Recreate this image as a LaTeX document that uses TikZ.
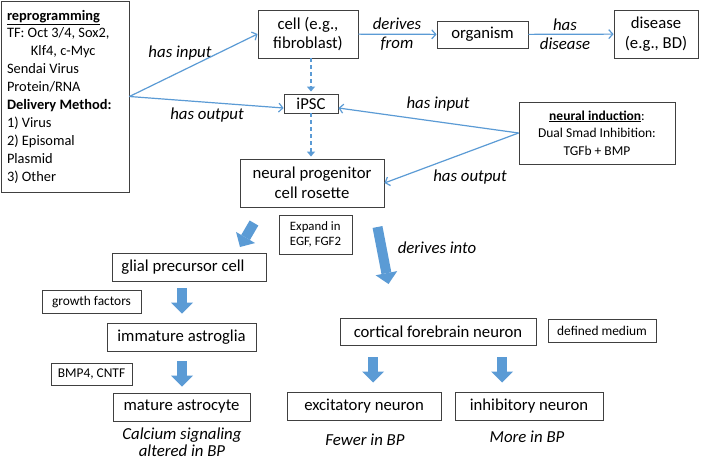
\documentclass[tikz,border=0pt]{standalone}
\usepackage{fontspec}
\setmainfont{Carlito}
\usetikzlibrary{arrows.meta,calc}
\definecolor{ablue}{HTML}{5B9BD5}
\definecolor{bline}{HTML}{404040}
\begin{document}
\begin{tikzpicture}[x=1pt,y=-1pt,
 box/.style={draw=bline,line width=0.9pt,inner sep=0pt,align=center,font=\fontsize{16.7}{19.5}\selectfont},
 smallbox/.style={draw=bline,line width=0.8pt,inner sep=0pt,align=center,font=\fontsize{13.4}{15.5}\selectfont},
 lbl/.style={font=\fontsize{16.8}{18.5}\selectfont\itshape,align=center,inner sep=0pt},
 thinarrow/.style={draw=ablue,line width=1.2pt,-{Straight Barb[length=4pt,width=9pt]}},
 dasharrow/.style={draw=ablue,line width=1.4pt,dash pattern=on 4pt off 3pt,-{Triangle[length=5pt,width=8pt]}},
 blockarrow/.style={draw=ablue,line width=10pt,-{Triangle[length=11pt,width=22pt,line width=0pt]}}
]
\useasboundingbox[fill=white] (0,0) rectangle (709,460);

% boxes
\node[box,minimum width=128,minimum height=191,text width=116,align=flush left,
  font=\fontsize{14.4}{17.9}\selectfont] (reprog) at (65,96.5)
 {\underline{\textbf{reprogramming}}\\
  TF: Oct 3/4, Sox2,\\
  \hspace*{24pt}Klf4, c-Myc\\
  Sendai Virus\\
  Protein/RNA\\
  \textbf{Delivery Method:}\\
  1) Virus\\
  2) Episomal\\
  Plasmid\\
  3) Other};
\node[box,minimum width=100,minimum height=48] (cell) at (308,34) {cell (e.g.,\\fibroblast)};
\node[box,minimum width=91,minimum height=27] (org) at (482.5,34.5) {organism};
\node[box,minimum width=84,minimum height=48] (dis) at (656,34) {disease\\(e.g., BD)};
\node[box,minimum width=54,minimum height=19] (ipsc) at (311,103.5) {iPSC};
\node[box,minimum width=144,minimum height=48] (npc) at (312,183) {neural progenitor\\cell rosette};
\node[smallbox,minimum width=73,minimum height=39,align=flush left,font=\fontsize{12.8}{15.5}\selectfont] (expand) at (315.5,234.5) {Expand in\\EGF, FGF2};
\node[box,minimum width=156,minimum height=62,font=\fontsize{13.5}{17.5}\selectfont] (ni) at (597,133)
 {\underline{\textbf{neural induction}}:\\Dual Smad Inhibition:\\TGFb + BMP};
\node[box,minimum width=154,minimum height=28] (glial) at (189,267) {glial precursor cell\hspace*{12pt}};
\node[smallbox,minimum width=99,minimum height=23] (growth) at (91.5,301.5) {growth factors};
\node[box,minimum width=149,minimum height=28] (imm) at (181.5,337) {immature astroglia};
\node[smallbox,minimum width=81,minimum height=22] (bmp) at (91.5,374) {BMP4, CNTF};
\node[box,minimum width=137,minimum height=28] (mat) at (181.5,407) {mature astrocyte};
\node[box,minimum width=196,minimum height=27] (cort) at (438,331.5) {cortical forebrain neuron};
\node[smallbox,minimum width=108,minimum height=23] (defm) at (602,330.5) {defined medium};
\node[box,minimum width=154,minimum height=28] (exc) at (364,406) {excitatory neuron};
\node[box,minimum width=148,minimum height=28] (inh) at (529,406) {inhibitory neuron};

% labels
\node[lbl] (l1) at (180,53) {has input};
\node[lbl] (l2) at (207,115) {has output};
\node[lbl] (l3) at (397,34) {derives\\from};
\node[lbl] (l4) at (565,34) {has\\disease};
\node[lbl] (l5) at (438,104) {has input};
\node[lbl] (l6) at (470,177) {has output};
\node[lbl] (l7) at (437,248) {derives into};
\node[lbl,font=\fontsize{16.8}{17}\selectfont\itshape] (l8) at (182,442.5) {Calcium signaling\\altered in BP};
\node[lbl] (l9) at (365,440) {Fewer in BP};
\node[lbl] (l10) at (527,437) {More in BP};

% thin connectors
\coordinate (ipscL) at ($(ipsc.west)+(0,4.5)$);
\coordinate (ipscR) at ($(ipsc.east)+(0,4.5)$);
\draw[thinarrow] (reprog.east) -- (cell.west);
\draw[thinarrow] (reprog.east) -- (ipscL);
\draw[thinarrow] (cell) -- (org);
\draw[thinarrow] (org) -- (dis);
\draw[thinarrow] (ni.west) -- (ipscR);
\draw[thinarrow] (ni.west) -- (npc.east);
\draw[dasharrow] (cell.south -| ipsc.north) -- ($(ipsc.north)+(0,-2)$);
\draw[dasharrow] (ipsc.south) -- ($(npc.north -| ipsc.south)+(0,-2)$);

% block arrows
\coordinate (b1s) at (254,223); \coordinate (b1e) at (240,247);
\coordinate (b2s) at (377.5,227); \coordinate (b2e) at (388.5,284);
\coordinate (b3s) at (182,288); \coordinate (b3e) at (182,313.5);
\coordinate (b4s) at (182,361); \coordinate (b4e) at (182,386.5);
\coordinate (b5s) at (373,357); \coordinate (b5e) at (373,382.5);
\coordinate (b6s) at (502,357); \coordinate (b6e) at (502,382.5);
\draw[blockarrow] (b1s) -- (b1e);
\draw[blockarrow] (b2s) -- (b2e);
\draw[blockarrow] (b3s) -- (b3e);
\draw[blockarrow] (b4s) -- (b4e);
\draw[blockarrow] (b5s) -- (b5e);
\draw[blockarrow] (b6s) -- (b6e);
\end{tikzpicture}
\end{document}
